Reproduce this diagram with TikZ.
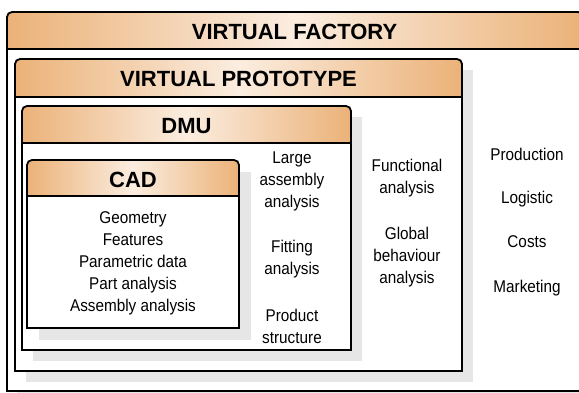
\documentclass[tikz,border=0pt]{standalone}
\usepackage{fontspec}
\setmainfont{Liberation Sans}
\newfontfamily\bodyfont{Liberation Sans}[FakeStretch=0.9]
\definecolor{hdr}{HTML}{EBB278}
\definecolor{hdrmid}{HTML}{FBEDE0}
\definecolor{shadowgray}{HTML}{E6E6E6}
\tikzset{
  boxline/.style={draw=black, line width=1.8pt},
  hdrfill/.style={left color=hdr, right color=hdr, middle color=hdrmid},
  titletext/.style={font=\fontsize{22}{24}\selectfont\bfseries, inner sep=0pt},
  bodytext/.style={font=\bodyfont\fontsize{17}{22}\selectfont, align=center, inner sep=0pt},
}
% left, top, right, bottom, header bottom, shadow offset
\newcommand\layerbox[6]{%
  \fill[shadowgray] ({#1+#6},{#2+#6}) rectangle ({#3+#6},{#4+#6});
  \fill[white] (#1,#2) rectangle (#3,#4);
  \begin{scope}
    \clip ({#1-3},{#2-3}) rectangle ({#3+3},#5);
    \shade[hdrfill, rounded corners=5pt] (#1,#2) rectangle (#3,{#5+10});
  \end{scope}
  \draw[boxline] (#1,#5) -- (#3,#5);
  \begin{scope}
    \clip ({#1-3},{#2-3}) rectangle ({#3+3},#4);
    \draw[boxline, rounded corners=5pt] (#1,#2) rectangle (#3,{#4+10});
  \end{scope}
  \draw[boxline, line cap=rect] (#1,#4) -- (#3,#4);
}
\begin{document}
\begin{tikzpicture}[x=1pt, y=-1pt]
  \useasboundingbox (0,0) rectangle (579,392);
  \clip (0,0) rectangle (579,392);
  \fill[white] (0,0) rectangle (579,392);
  % layers
  \layerbox{7}{12}{583}{391}{49}{10}
  \layerbox{15}{59}{462}{371}{97}{11}
  \layerbox{22}{106}{351}{350}{143}{11}
  \layerbox{27}{160}{239}{328}{196}{12}
  % titles
  \node[titletext] (vf)  at (294.5,32) {VIRTUAL FACTORY};
  \node[titletext] (vp)  at (238.5,79) {VIRTUAL PROTOTYPE};
  \node[titletext] (dmu) at (186.5,126) {DMU};
  \node[titletext] (cad) at (133,180) {CAD};
  % CAD contents
  \node[bodytext] (cadtxt) at (133,263) {Geometry\\Features\\Parametric data\\Part analysis\\Assembly analysis};
  % DMU contents
  \node[bodytext] (large) at (292,181) {Large\\assembly\\analysis};
  \node[bodytext] (fit)   at (292,259) {Fitting\\analysis};
  \node[bodytext] (prod)  at (292,326) {Product\\structure};
  % VP contents
  \node[bodytext] (func)  at (407,178) {Functional\\analysis};
  \node[bodytext] (glob)  at (407,257) {Global\\behaviour\\analysis};
  % VF contents
  \node[bodytext] (production) at (527,154) {Production};
  \node[bodytext] (logistic)   at (527,199) {Logistic};
  \node[bodytext] (costs)      at (527,242) {Costs};
  \node[bodytext] (marketing)  at (527,288) {Marketing};
\end{tikzpicture}
\end{document}
